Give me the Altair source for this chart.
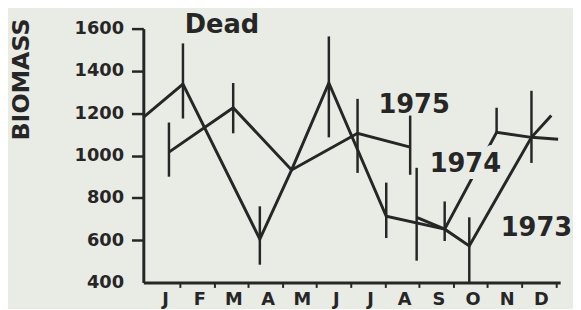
import altair as alt
import pandas as pd

# ---- data ----
months = ["J", "F", "M", "A", "M", "J", "J", "A", "S", "O", "N", "D"]
month_ticks = [1, 2, 3, 4, 5, 6, 7, 8, 9, 10, 11, 12]
y_ticks = [400, 600, 800, 1000, 1200, 1400, 1600]

# x in months since 1 January (0 = start of Jan, 12 = end of Dec)
x_1973 = [7.93, 8.75, 9.47, 11.29, 11.87]
y_1973 = [708, 652, 573, 1086, 1189]

x_1974 = [-0.07, 1.09, 3.34, 4.27, 5.36, 7.04, 8.75, 10.27, 11.29, 12.07]
y_1974 = [1180, 1338, 605, 932, 1343, 713, 652, 1110, 1086, 1077]

x_1975 = [0.68, 2.56, 4.27, 6.20, 7.74]
y_1975 = [1016, 1226, 932, 1105, 1040]

err_x = [0.68, 1.09, 2.56, 3.34, 5.36, 6.20, 7.04, 7.74, 7.93, 8.75, 9.47, 10.27, 11.29]
err_lo = [900, 1175, 1105, 484, 1086, 918, 610, 909, 503, 596, 400, 1110, 965]
err_hi = [1156, 1530, 1343, 760, 1563, 1268, 872, 1189, 942, 783, 708, 1226, 1306]

label_text = ["Dead", "1975", "1974", "1973"]
label_x = [1.14, 6.81, 8.31, 10.39]
label_y = [1581, 1203, 923, 619]

# ---- styling ----
INK = "#262626"
BG = "#e9ece4"
FONT = "DejaVu Sans"

rows = []
for name, xs, ys in [("1973", x_1973, y_1973), ("1974", x_1974, y_1974), ("1975", x_1975, y_1975)]:
    for i, (a, b) in enumerate(zip(xs, ys)):
        rows.append({"series": name, "x": a, "y": b, "order": i})
line_df = pd.DataFrame(rows)
err_df = pd.DataFrame({"x": err_x, "lo": err_lo, "hi": err_hi})
lab_df = pd.DataFrame({"text": label_text, "x": label_x, "y": label_y})

xscale = alt.Scale(domain=[-0.07, 12.13], nice=False, zero=False)
yscale = alt.Scale(domain=[400, 1600], nice=False, zero=False)

month_expr = "[" + ",".join("'%s'" % m for m in months) + "][datum.value - 1]"

xaxis = alt.Axis(
    values=month_ticks, labelExpr=month_expr, labelOffset=-15, title=None,
    grid=False, tickSize=5, tickWidth=2, tickColor=INK,
    domainColor=INK, domainWidth=3, labelPadding=3,
    labelFont=FONT, labelFontWeight="bold", labelFontSize=18, labelColor=INK,
    labelFlush=False, labelOverlap=False, labelBaseline="top",
)
yaxis = alt.Axis(
    values=y_ticks, format="d", title="BIOMASS", grid=False, tickSize=12, tickWidth=2.5,
    tickColor=INK,
    tickOpacity={"condition": {"test": "datum.value == 400", "value": 0}, "value": 1},
    domainColor=INK, domainWidth=3, labelPadding=8,
    labelFont=FONT, labelFontWeight="bold", labelFontSize=18, labelColor=INK,
    labelFlush=False, labelOverlap=False,
    titleFont=FONT, titleFontWeight="bold", titleFontSize=24, titleColor=INK,
    titleX=-123, titleY=51, titleAngle=270, titleAlign="center", titleBaseline="middle",
)

X = lambda f: alt.X(f, scale=xscale, axis=xaxis)
Y = lambda f: alt.Y(f, scale=yscale, axis=yaxis)

lines = alt.Chart(line_df).mark_line(color=INK, strokeWidth=3).encode(
    x=X("x:Q"), y=Y("y:Q"), detail="series:N", order="order:Q"
)
bars = alt.Chart(err_df).mark_rule(color=INK, strokeWidth=2.5).encode(
    x=X("x:Q"), y=Y("lo:Q"), y2="hi:Q"
)
halo = alt.Chart(lab_df[lab_df["text"] == "1974"]).mark_text(
    align="left", baseline="alphabetic", font=FONT, fontWeight="bold", fontSize=26,
    color=BG, stroke=BG, strokeWidth=14, strokeJoin="round"
).encode(x=X("x:Q"), y=Y("y:Q"), text="text:N")
labels = alt.Chart(lab_df).mark_text(
    align="left", baseline="alphabetic", font=FONT, fontWeight="bold", fontSize=26,
    color=INK
).encode(x=X("x:Q"), y=Y("y:Q"), text="text:N")

chart = alt.layer(lines, bars, halo, labels).properties(
    width=422, height=257,
    background=BG,
    padding={"left": 137, "top": 19, "right": 13, "bottom": 25},
    autosize=alt.AutoSizeParams(type="none"),
).configure_view(stroke=None)

chart.save("out.html", embed_options={"renderer": "svg", "actions": False})
